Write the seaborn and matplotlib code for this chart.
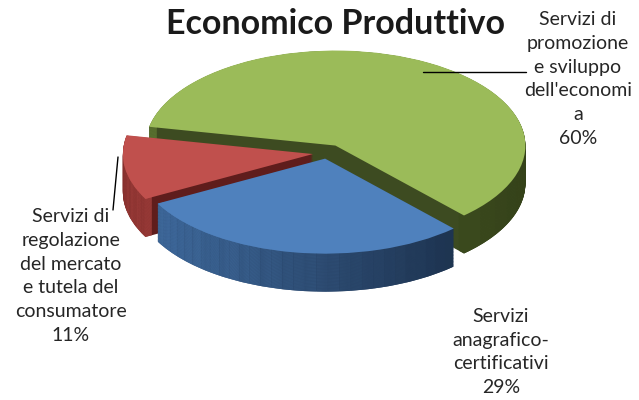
import numpy as np
import matplotlib
matplotlib.use("Agg")
import matplotlib.pyplot as plt
import seaborn as sns
from matplotlib.lines import Line2D

# data
labels = ["Servizi di\npromozione\ne sviluppo\ndell'economi\na\n60%",
          "Servizi\nanagrafico-\ncertificativi\n29%",
          "Servizi di\nregolazione\ndel mercato\ne tutela del\nconsumatore\n11%"]
values = [60, 29, 11]
title = "Economico Produttivo"

# styles
top_colors = ["#9BBB59", "#4F81BD", "#C0504D"]
side_light = ["#5F7832", "#4A7BB4", "#A8423F"]
side_dark = ["#344119", "#16263C", "#6E2423"]
cut_colors = ["#3D4B21", "#1E3556", "#5F1D1C"]
explode = [0.09, 0.06, 0.075]
start = 168.6
depth = 0.40
n_layers = 50
n_sub = 30

sns.set_theme(style="white")
plt.rcParams["font.family"] = ["Lato", "DejaVu Sans"]

fig = plt.figure(figsize=(6.39, 4), dpi=100)
ax = fig.add_axes([0, 0, 1, 1])

# slice angles (clockwise)
total = sum(values)
a0s, mids = [], []
a = start
for v in values:
    a1 = a - v / total * 360
    a0s.append(a)
    mids.append(np.deg2rad((a + a1) / 2))
    a = a1

grads = [sns.blend_palette([l, d], n_colors=64) for l, d in zip(side_light, side_dark)]

# stacked layers give the 3d side
for t in np.linspace(depth, 0.005, n_layers):
    ax.pie(values, explode=explode, colors=cut_colors, startangle=start,
           counterclock=False, center=(0, -t), wedgeprops=dict(linewidth=0))
    for i, v in enumerate(values):
        cx = explode[i] * np.cos(mids[i])
        cy = explode[i] * np.sin(mids[i]) - t
        sub = [v / n_sub] * n_sub + [total - v]
        cols = []
        for k in range(n_sub):
            th = np.deg2rad(a0s[i] - (k + 0.5) * v / n_sub / total * 360)
            f = (1 + np.cos(th)) / 2
            cols.append(grads[i][int(round(f * 63))])
        cols.append("none")
        ax.pie(sub, colors=cols, startangle=a0s[i], counterclock=False,
               center=(cx, cy), wedgeprops=dict(width=0.04, linewidth=0))

# top face
ax.pie(values, explode=explode, colors=top_colors, startangle=start,
       counterclock=False, center=(0, 0), wedgeprops=dict(linewidth=0))

ax.set_aspect("auto")
ax.set_xlim(-327 / 190, (639 - 327) / 190)
ax.set_ylim(-(400 - 153) / 95, 153 / 95)
ax.axis("off")

fig.text(335 / 639, 1 - 24 / 400, title, ha="center", va="center",
         fontsize=24.5, fontweight="bold", color="#1A1A1A")

lab_pos = [(578, 79), (501, 352), (71, 276)]
for lab, (px, py) in zip(labels, lab_pos):
    fig.text(px / 639, 1 - py / 400, lab, ha="center", va="center",
             fontsize=14, color="#262626", linespacing=1.49,
             multialignment="center")

# leader lines
fig.add_artist(Line2D([423 / 639, 526 / 639], [1 - 72 / 400, 1 - 72 / 400],
                      color="black", lw=1))
fig.add_artist(Line2D([118 / 639, 113 / 639], [1 - 157 / 400, 1 - 210 / 400],
                      color="black", lw=1))

fig.savefig("out.png", dpi=100, facecolor="white")
